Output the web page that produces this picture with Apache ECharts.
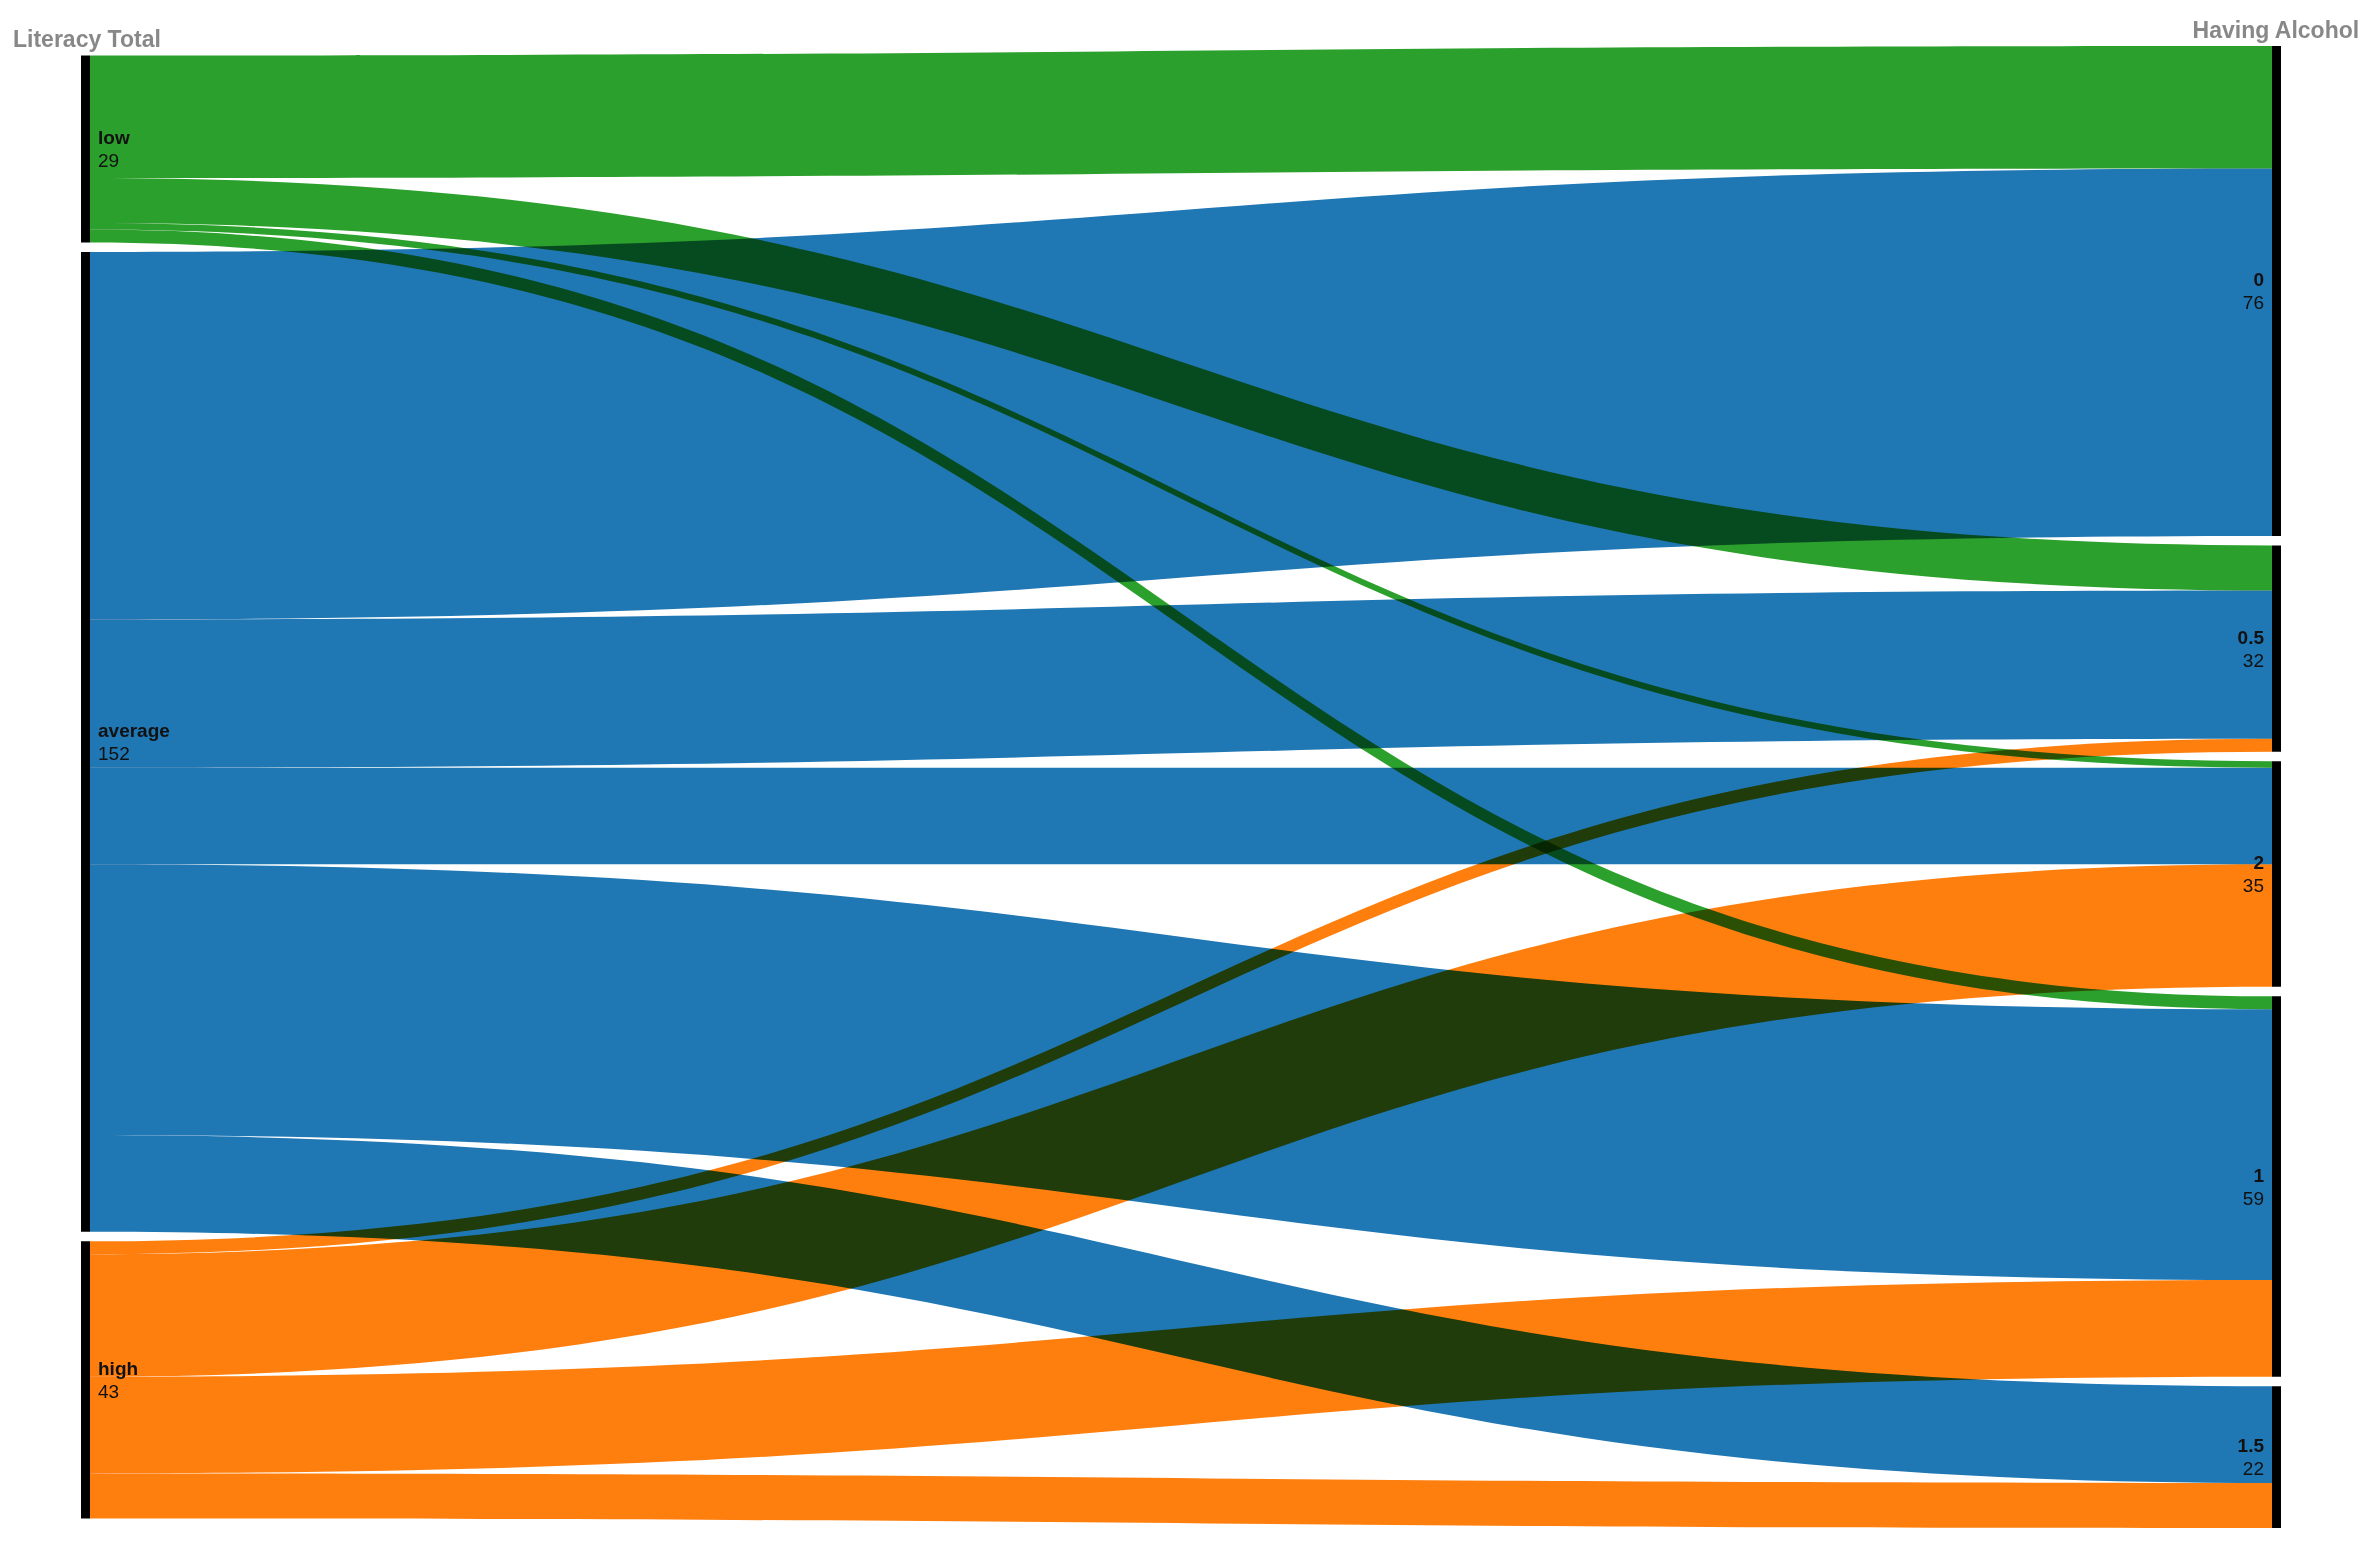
<!DOCTYPE html>
<html>
<head>
<meta charset="utf-8">
<script src="https://cdn.jsdelivr.net/npm/echarts@6/dist/echarts.min.js"></script>
<style>
  html, body { margin: 0; padding: 0; background: #fff; }
  #main { width: 2374px; height: 1546px; }
  /* overlapping flows darken each other like in the original */
  #main svg path { mix-blend-mode: multiply; }
</style>
</head>
<body>
<div id="main"></div>
<script>
// left column: literacy, right column: having alcohol
var sources = ['low', 'average', 'high'];
var targets = ['0', '0.5', '2', '1', '1.5'];
// flows from each source to targets, same order as targets
var flowLow = [19, 7, 1, 2, 0];
var flowAverage = [57, 23, 15, 42, 15];
var flowHigh = [0, 2, 19, 15, 7];
var sourceColors = ['#2ca02c', '#1f77b4', '#ff7f0e'];

var flows = [flowLow, flowAverage, flowHigh];
var chart = echarts.init(document.getElementById('main'), null, { renderer: 'svg' });

var seriesTop = 46, seriesBottom = 18, gap = 9.5;
var H = 1546 - seriesTop - seriesBottom;
var total = 0;
flows.forEach(function (f) { f.forEach(function (v) { total += v; }); });
var ky = (H - (targets.length - 1) * gap) / total;

// left column is centred vertically (it has fewer gaps)
var nodes = [];
var offset = (targets.length - sources.length) * gap / 2;
var acc = 0;
sources.forEach(function (s, i) {
    var sum = 0;
    flows[i].forEach(function (v) { sum += v; });
    nodes.push({
        name: s,
        localY: (offset + acc * ky + i * gap) / H,
        label: { position: 'right' }
    });
    acc += sum;
});
targets.forEach(function (t) {
    nodes.push({ name: t, label: { position: 'left' } });
});

var links = [];
sources.forEach(function (s, i) {
    targets.forEach(function (t, j) {
        if (flows[i][j] > 0) {
            links.push({
                source: s,
                target: t,
                value: flows[i][j],
                lineStyle: { color: sourceColors[i] }
            });
        }
    });
});

var txt = { fontFamily: 'Liberation Sans, Arial', fontSize: 19, lineHeight: 23, color: '#111' };
var titleStyle = { fontFamily: 'Liberation Sans, Arial', fontSize: 23, fontWeight: 'bold', color: '#888' };

chart.setOption({
    animation: false,
    title: [{
        text: 'Literacy Total',
        left: 8, top: 22,
        textStyle: titleStyle
    }, {
        text: 'Having Alcohol',
        right: 9, top: 13,
        textStyle: titleStyle
    }],
    series: [{
        type: 'sankey',
        left: 81,
        right: 2374 - 2281,
        top: seriesTop,
        bottom: seriesBottom,
        nodeWidth: 9,
        nodeGap: gap,
        layoutIterations: 0,
        draggable: false,
        emphasis: { disabled: true },
        itemStyle: { color: '#000', borderWidth: 0 },
        lineStyle: { opacity: 1, curveness: 0.5 },
        label: {
            distance: 8,
            formatter: '{n|{b}}\n{v|{c}}',
            rich: {
                n: Object.assign({ fontWeight: 'bold' }, txt),
                v: Object.assign({}, txt)
            }
        },
        data: nodes,
        links: links
    }]
});
</script>
</body>
</html>
